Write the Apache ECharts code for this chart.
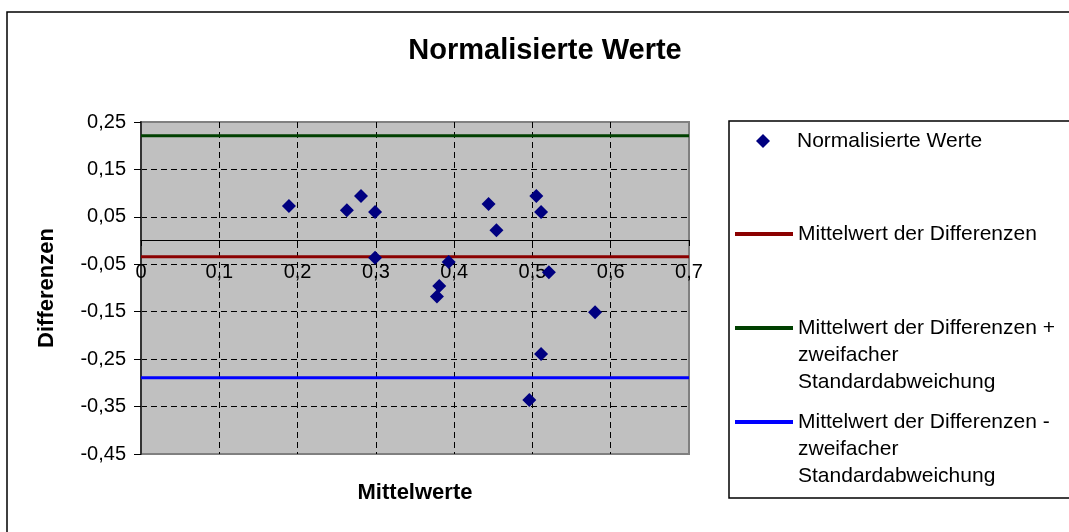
<!DOCTYPE html>
<html>
<head>
<meta charset="utf-8">
<script src="https://cdn.jsdelivr.net/npm/echarts@6/dist/echarts.min.js"></script>
<style>
html,body{margin:0;padding:0;background:#fff;}
#chart{width:1069px;height:532px;}
</style>
</head>
<body>
<div id="chart"></div>
<script>
// Data
const meanValues = [0.189, 0.263, 0.281, 0.299, 0.299, 0.378, 0.381, 0.393, 0.444, 0.454, 0.496, 0.505, 0.511, 0.511, 0.521, 0.580];
const differences = [0.073, 0.064, 0.094, 0.060, -0.036, -0.118, -0.096, -0.045, 0.077, 0.022, -0.336, 0.094, 0.060, -0.239, -0.067, -0.151];
const meanDiff = -0.034;
const upperLimit = 0.221;
const lowerLimit = -0.289;
const lineXRange = [0, 0.7];
const seriesNames = [
  'Normalisierte Werte',
  'Mittelwert der Differenzen',
  'Mittelwert der Differenzen +\nzweifacher\nStandardabweichung',
  'Mittelwert der Differenzen -\nzweifacher\nStandardabweichung'
];
const titleText = 'Normalisierte Werte';
const xAxisName = 'Mittelwerte';
const yAxisName = 'Differenzen';

const FONT = 'Liberation Sans, Arial, sans-serif';
const points = meanValues.map((x, i) => [x, differences[i]]);
const hLine = v => lineXRange.map(x => [x, v]);
const LINE_ICON = 'path://M0,0 H58 V4 H0 Z';
const DIAMOND_ICON = 'path://M7,0 L14,7 L7,14 L0,7 Z';

const chart = echarts.init(document.getElementById('chart'));
const legendText = { fontFamily: FONT, fontSize: 21, color: '#000', lineHeight: 27 };
const legendBase = {
  orient: 'vertical',
  left: 735,
  itemWidth: 58,
  itemHeight: 14,
  padding: 0,
  symbolKeepAspect: true,
  selectedMode: false,
  textStyle: legendText
};
const multiLine = name => '\n\n' + name;
chart.setOption({
  animation: false,
  backgroundColor: '#fff',
  title: {
    text: titleText,
    left: 540,
    top: 31,
    textAlign: 'center',
    textStyle: { fontFamily: FONT, fontSize: 29, fontWeight: 'bold', color: '#000' }
  },
  graphic: [
    { type: 'rect', z: -10, shape: { x: 7, y: 12, width: 1080, height: 540 }, style: { fill: null, stroke: '#000', lineWidth: 1.5 } },
    { type: 'rect', z: -10, shape: { x: 729, y: 121, width: 360, height: 377 }, style: { fill: null, stroke: '#000', lineWidth: 1.5 } }
  ],
  legend: [
    Object.assign({}, legendBase, {
      top: 127.5, left: 756, itemWidth: 14,
      formatter: name => '{g|}' + name,
      textStyle: Object.assign({}, legendText, { rich: { g: { width: 22 } } }),
      data: [{ name: seriesNames[0], icon: DIAMOND_ICON }]
    }),
    Object.assign({}, legendBase, { top: 220.5, data: [{ name: seriesNames[1], icon: LINE_ICON }] }),
    Object.assign({}, legendBase, { top: 260.5, formatter: multiLine, data: [{ name: seriesNames[2], icon: LINE_ICON }] }),
    Object.assign({}, legendBase, { top: 354.5, formatter: multiLine, data: [{ name: seriesNames[3], icon: LINE_ICON }] })
  ],
  grid: {
    left: 141, top: 122, width: 548, height: 332,
    outerBoundsMode: 'none', containLabel: false,
    show: true, backgroundColor: '#c0c0c0', borderColor: '#808080', borderWidth: 2
  },
  xAxis: {
    type: 'value', min: 0, max: 0.7, interval: 0.1,
    position: 'bottom', offset: -214,
    name: xAxisName, nameLocation: 'middle', nameGap: 242,
    nameTextStyle: { fontFamily: FONT, fontSize: 22, fontWeight: 'bold', color: '#000' },
    axisLine: { show: true, onZero: false, lineStyle: { color: '#000', width: 1 } },
    axisTick: { show: true, length: 6, lineStyle: { color: '#000' } },
    axisLabel: { margin: 22, fontFamily: FONT, fontSize: 20, color: '#000',
      formatter: v => v === 0 ? '0' : v.toFixed(1).replace('.', ',') },
    splitLine: { show: true, showMinLine: false, showMaxLine: false, lineStyle: { color: '#000', width: 1, type: [6, 4] } }
  },
  yAxis: {
    type: 'value', min: -0.45, max: 0.25, interval: 0.1,
    name: yAxisName, nameLocation: 'middle', nameGap: 83, nameRotate: 90,
    nameTextStyle: { fontFamily: FONT, fontSize: 22, fontWeight: 'bold', color: '#000' },
    axisLine: { show: true, onZero: false, lineStyle: { color: '#333', width: 2 } },
    axisTick: { show: true, length: 7, lineStyle: { color: '#000' } },
    axisLabel: { margin: 15, fontFamily: FONT, fontSize: 20, color: '#000',
      formatter: v => v.toFixed(2).replace('.', ',') },
    splitLine: { show: true, showMinLine: false, showMaxLine: false, lineStyle: { color: '#000', width: 1, type: [6, 4] } }
  },
  series: [
    { name: seriesNames[0], type: 'scatter', data: points, symbol: 'diamond', symbolSize: 14,
      itemStyle: { color: '#000080', opacity: 1 }, z: 5 },
    { name: seriesNames[1], type: 'line', data: hLine(meanDiff), showSymbol: false, symbol: 'none',
      lineStyle: { color: '#8b0000', width: 3 }, itemStyle: { color: '#8b0000' } },
    { name: seriesNames[2], type: 'line', data: hLine(upperLimit), showSymbol: false, symbol: 'none',
      lineStyle: { color: '#004000', width: 3 }, itemStyle: { color: '#004000' } },
    { name: seriesNames[3], type: 'line', data: hLine(lowerLimit), showSymbol: false, symbol: 'none',
      lineStyle: { color: '#0000ff', width: 3 }, itemStyle: { color: '#0000ff' } }
  ]
});
</script>
</body>
</html>
